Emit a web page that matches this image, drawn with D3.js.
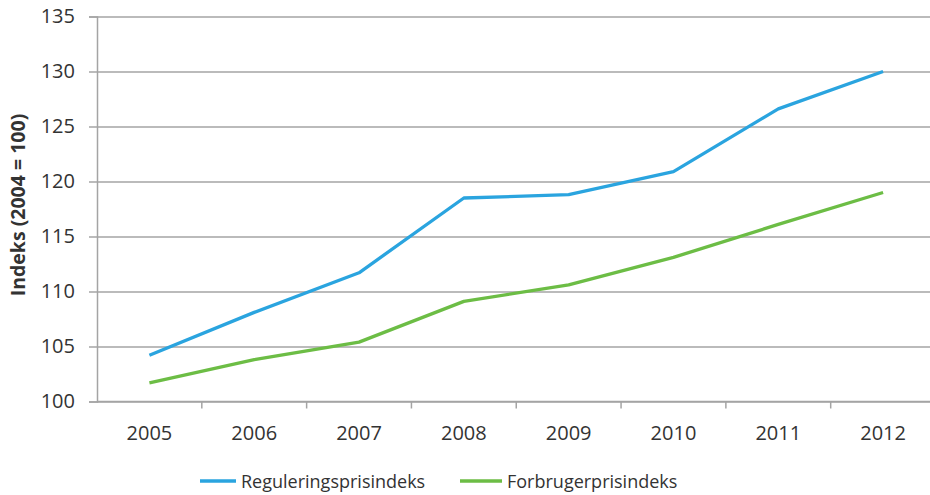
<!DOCTYPE html>
<html>
<head>
<meta charset="utf-8">
<script src="https://cdn.jsdelivr.net/npm/d3@7/dist/d3.min.js"></script>
<style>
  html, body { margin: 0; padding: 0; background: #fff; }
  svg { display: block; }
  text { font-family: "Open Sans", sans-serif; fill: #333; }
</style>
</head>
<body>
<svg id="chart" width="930" height="495"></svg>
<script>
// Index values (2004 = 100)
const years = ["2005", "2006", "2007", "2008", "2009", "2010", "2011", "2012"];
const reguleringsprisindeks = [104.2, 108.1, 111.7, 118.5, 118.8, 120.9, 126.6, 130.0];
const forbrugerprisindeks = [101.7, 103.8, 105.4, 109.1, 110.6, 113.1, 116.1, 119.0];
const yTicks = [100, 105, 110, 115, 120, 125, 130, 135];
const seriesNames = ["Reguleringsprisindeks", "Forbrugerprisindeks"];
const seriesColors = ["#2aa4df", "#6cbd45"];
const yTitle = "Indeks (2004 = 100)";

const svg = d3.select("#chart");
const plotLeft = 97, plotRight = 935.5, plotTop = 16.5, plotBottom = 401.5;

const x = d3.scaleBand().domain(years).range([plotLeft, plotRight]);
const y = d3.scaleLinear().domain([100, 135]).range([plotBottom, plotTop]);

const gridColor = "#a4a4a4";

// horizontal gridlines
svg.append("g")
  .attr("transform", `translate(${plotLeft},0)`)
  .call(d3.axisLeft(y).tickValues(yTicks).tickSize(-(930 - plotLeft)).tickFormat(""))
  .call(g => g.select(".domain").remove())
  .call(g => g.selectAll("line").attr("stroke", gridColor).attr("stroke-width", 1.5));

// y axis with outer ticks and labels
svg.append("g")
  .attr("transform", `translate(${plotLeft},0)`)
  .call(d3.axisLeft(y).tickValues(yTicks).tickSize(8).tickPadding(14))
  .call(g => g.select(".domain").attr("stroke", gridColor).attr("stroke-width", 1.5))
  .call(g => g.selectAll("line").attr("stroke", gridColor).attr("stroke-width", 1.5))
  .call(g => g.selectAll("text").attr("font-size", 20).attr("fill", "#333")
    .style("font-family", "'Open Sans', sans-serif"));

// x axis: ticks sit between categories
const xAxisG = svg.append("g").attr("transform", `translate(0,${plotBottom})`);
xAxisG.append("line")
  .attr("x1", plotLeft).attr("x2", 930)
  .attr("stroke", gridColor).attr("stroke-width", 1.5);
xAxisG.selectAll("line.tick")
  .data(years)
  .join("line")
  .attr("class", "tick")
  .attr("x1", d => x(d) + x.bandwidth()).attr("x2", d => x(d) + x.bandwidth())
  .attr("y1", 0).attr("y2", 7)
  .attr("stroke", gridColor).attr("stroke-width", 1.5);
xAxisG.selectAll("text")
  .data(years)
  .join("text")
  .attr("x", d => x(d) + x.bandwidth() / 2)
  .attr("y", 38)
  .attr("text-anchor", "middle")
  .attr("font-size", 20)
  .text(d => d);

// y axis title
svg.append("text")
  .attr("transform", `translate(25,${(plotTop + plotBottom) / 2 - 4}) rotate(-90)`)
  .attr("text-anchor", "middle")
  .attr("font-size", 19.5)
  .attr("font-weight", "bold")
  .attr("fill", "#111")
  .text(yTitle);

// lines
const line = d3.line()
  .x((d, i) => x(years[i]) + x.bandwidth() / 2)
  .y(d => y(d));

[reguleringsprisindeks, forbrugerprisindeks].forEach((vals, k) => {
  svg.append("path")
    .datum(vals)
    .attr("fill", "none")
    .attr("stroke", seriesColors[k])
    .attr("stroke-width", 3.3)
    .attr("stroke-linejoin", "round")
    .attr("d", line);
});

// legend
const legendItems = [
  { x1: 200, x2: 236, tx: 241 },
  { x1: 460, x2: 502, tx: 507 }
];
legendItems.forEach((it, k) => {
  svg.append("line")
    .attr("x1", it.x1).attr("x2", it.x2)
    .attr("y1", 481).attr("y2", 481)
    .attr("stroke", seriesColors[k]).attr("stroke-width", 3.3);
  svg.append("text")
    .attr("x", it.tx).attr("y", 488)
    .attr("font-size", 18)
    .text(seriesNames[k]);
});
</script>
</body>
</html>
